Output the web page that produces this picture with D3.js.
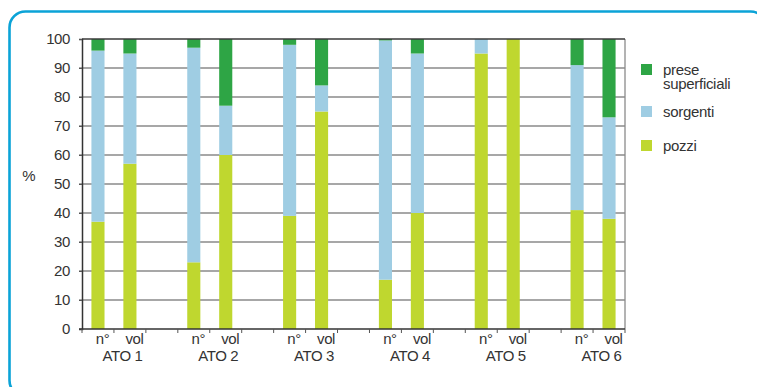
<!DOCTYPE html>
<html>
<head>
<meta charset="utf-8">
<script src="https://cdn.jsdelivr.net/npm/d3@7"></script>
<style>
    html, body { margin: 0; padding: 0; background: #fff; }
    svg { display: block; font-family: "Liberation Sans", Arial, sans-serif; }
</style>
</head>
<body>
<svg id="chart"></svg>
<script>
const width = 757
const height = 387

// data (percent)
const ato = ["ATO 1", "ATO 2", "ATO 3", "ATO 4", "ATO 5", "ATO 6"]
const sub_labels = ["n°", "vol"]
const pozzi_n = [37, 23, 39, 17, 95, 41]
const sorgenti_n = [59, 74, 59, 82.5, 5, 50]
const prese_n = [4, 3, 2, 0.5, 0, 9]
const pozzi_vol = [57, 60, 75, 40, 100, 38]
const sorgenti_vol = [38, 17, 9, 55, 0, 35]
const prese_vol = [5, 23, 16, 5, 0, 27]
const series_keys = ["pozzi", "sorgenti", "prese"]
const legend_labels = [["prese", "superficiali"], ["sorgenti"], ["pozzi"]]
const y_ticks = [0, 10, 20, 30, 40, 50, 60, 70, 80, 90, 100]

const colors = {pozzi: "#bfd72f", sorgenti: "#9fcde3", prese: "#2ea545"}

// one row per slot: n°, vol, gap, n°, vol, gap ...
let rows = []
ato.forEach((g, i) => {
    rows.push({slot: g + "|n", group: g, sub: sub_labels[0], pozzi: pozzi_n[i], sorgenti: sorgenti_n[i], prese: prese_n[i]})
    rows.push({slot: g + "|v", group: g, sub: sub_labels[1], pozzi: pozzi_vol[i], sorgenti: sorgenti_vol[i], prese: prese_vol[i]})
    if (i < ato.length - 1) rows.push({slot: g + "|gap", group: null, sub: null, pozzi: 0, sorgenti: 0, prese: 0})
})

const margin = {left: 82, right: 132, top: 39, bottom: 58}
const x0 = margin.left, x1 = width - margin.right
const y0 = height - margin.bottom, y1 = margin.top

let svg = d3.select("#chart")
    .attr("width", width)
    .attr("height", height)

// blue rounded frame
svg.append("rect")
    .attr("x", 9.5).attr("y", 11.5)
    .attr("width", 757).attr("height", 385)
    .attr("rx", 16).attr("ry", 16)
    .attr("fill", "none")
    .attr("stroke", "#0ba3d7")
    .attr("stroke-width", 2.6)

let x = d3.scaleBand()
    .domain(rows.map(d => d.slot))
    .range([x0, x1])
    .paddingInner(0.59)
    .paddingOuter(0.295)

let y = d3.scaleLinear()
    .domain([0, 100])
    .range([y0, y1])

// gridlines
svg.append("g")
    .selectAll("line")
    .data(y_ticks.filter(t => t > 0 && t < 100))
    .enter()
    .append("line")
    .attr("x1", x0 - 3).attr("x2", x1)
    .attr("y1", d => y(d)).attr("y2", d => y(d))
    .attr("stroke", "#8a8a8a")
    .attr("stroke-width", 1.3)

// right frame of plot
svg.append("line")
    .attr("x1", x1).attr("x2", x1)
    .attr("y1", y1).attr("y2", y0)
    .attr("stroke", "#8a8a8a")
    .attr("stroke-width", 1.3)

// stacked bars
let stack = d3.stack().keys(series_keys)
let layers = stack(rows)

svg.append("g")
    .selectAll("g")
    .data(layers)
    .enter()
    .append("g")
    .attr("fill", d => colors[d.key])
    .selectAll("rect")
    .data(d => d.filter(p => p.data.group !== null))
    .enter()
    .append("rect")
    .attr("x", d => x(d.data.slot))
    .attr("width", x.bandwidth())
    .attr("y", d => y(d[1]))
    .attr("height", d => y(d[0]) - y(d[1]))

// top line of plot
svg.append("line")
    .attr("x1", x0).attr("x2", x1)
    .attr("y1", y1).attr("y2", y1)
    .attr("stroke", "#3a3a3a")
    .attr("stroke-width", 1.3)

// y axis
let yAxis = svg.append("g")
    .attr("transform", `translate(${x0},0)`)
    .call(d3.axisLeft(y).tickValues(y_ticks).tickSize(3).tickPadding(9))
yAxis.select(".domain").attr("stroke", "#333").attr("stroke-width", 1.5)
yAxis.selectAll(".tick line").attr("stroke", "#555")
yAxis.selectAll("text")
    .attr("fill", "#333")
    .style("font-size", "15px")
    .style("letter-spacing", "-0.4px")

// x axis: ticks at slot boundaries
let step = x.step()
let bounds = d3.range(rows.length + 1).map(i => x0 + i * step)
svg.append("line")
    .attr("x1", x0 - 3).attr("x2", x1)
    .attr("y1", y0).attr("y2", y0)
    .attr("stroke", "#333")
    .attr("stroke-width", 1.5)
svg.append("g")
    .selectAll("line")
    .data(bounds)
    .enter()
    .append("line")
    .attr("x1", d => d).attr("x2", d => d)
    .attr("y1", y0).attr("y2", y0 + 4)
    .attr("stroke", "#555")
    .attr("stroke-width", 1)

// sub labels
svg.append("g")
    .selectAll("text")
    .data(rows.filter(d => d.sub !== null))
    .enter()
    .append("text")
    .attr("x", d => x(d.slot) + x.bandwidth() / 2 + 4.5)
    .attr("y", 344)
    .attr("text-anchor", "middle")
    .attr("fill", "#333")
    .style("font-size", "15px")
    .style("letter-spacing", "-0.4px")
    .text(d => d.sub)

// group labels
svg.append("g")
    .selectAll("text")
    .data(ato)
    .enter()
    .append("text")
    .attr("x", d => x(d + "|v") - (step - x.bandwidth()) / 2 + 8.5)
    .attr("y", 361)
    .attr("text-anchor", "middle")
    .attr("fill", "#333")
    .style("font-size", "15px")
    .style("letter-spacing", "-0.4px")
    .text(d => d)

// y title
svg.append("text")
    .attr("x", 29).attr("y", 181)
    .attr("text-anchor", "middle")
    .attr("fill", "#333")
    .style("font-size", "15px")
    .text("%")

// legend
const legend_keys = ["prese", "sorgenti", "pozzi"]
const legend_y = [64, 106, 140]
let legend = svg.append("g")
    .selectAll("g")
    .data(legend_keys)
    .enter()
    .append("g")
    .attr("transform", (d, i) => `translate(641,${legend_y[i]})`)
legend.append("rect")
    .attr("width", 11).attr("height", 11)
    .attr("fill", d => colors[d])
legend.append("text")
    .attr("x", 22)
    .attr("y", 10.5)
    .attr("fill", "#333")
    .style("font-size", "15px")
    .style("letter-spacing", "-0.3px")
    .selectAll("tspan")
    .data((d, i) => legend_labels[i])
    .enter()
    .append("tspan")
    .attr("x", 22)
    .attr("dy", (d, i) => i === 0 ? 0 : 14)
    .text(d => d)
</script>
</body>
</html>
